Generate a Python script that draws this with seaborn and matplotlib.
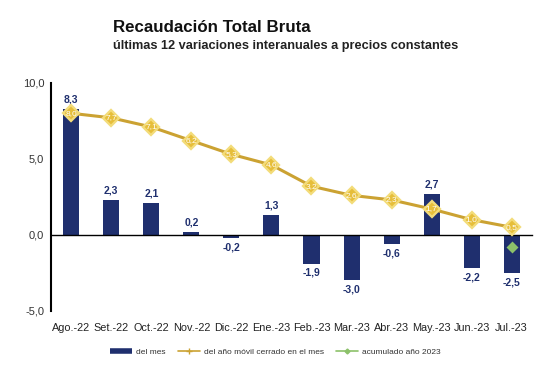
import numpy as np
import matplotlib
matplotlib.use("Agg")
import matplotlib.pyplot as plt
from matplotlib.lines import Line2D
import seaborn as sns
import pandas as pd

months = ["Ago.-22", "Set.-22", "Oct.-22", "Nov.-22", "Dic.-22", "Ene.-23",
          "Feb.-23", "Mar.-23", "Abr.-23", "May.-23", "Jun.-23", "Jul.-23"]
del_mes = [8.3, 2.3, 2.1, 0.2, -0.2, 1.3, -1.9, -3.0, -0.6, 2.7, -2.2, -2.5]
movil = [8.0, 7.7, 7.1, 6.2, 5.3, 4.6, 3.2, 2.6, 2.3, 1.7, 1.0, 0.5]
acum_month = ["Jul.-23"]
acum_2023 = [-0.8]

NAVY = "#1f2f6e"
GOLD = "#cba232"
GOLD_FACE = "#e6be3a"
GREEN = "#8cc16a"

def fmt(v):
    return f"{v:.1f}".replace(".", ",")

sns.set_style("white")
plt.rcParams["font.family"] = ["Liberation Sans", "DejaVu Sans"]

df = pd.DataFrame({"mes": months, "del_mes": del_mes, "movil": movil})
df_acum = pd.DataFrame({"mes": acum_month, "acum": acum_2023})

fig = plt.figure(figsize=(5.51, 3.91), dpi=100)
ax = fig.add_axes([0.093, 0.205, 0.872, 0.583])

sns.barplot(data=df, x="mes", y="del_mes", order=months, color=NAVY,
            width=0.4, saturation=1, edgecolor=NAVY, linewidth=0, ax=ax, zorder=2)
ax.bar_label(ax.containers[0], labels=[fmt(v) for v in del_mes], padding=3,
             fontsize=7.5, fontweight="bold", color=NAVY)

sns.pointplot(data=df, x="mes", y="movil", order=months, color=GOLD,
              markers="D", markersize=8, linewidth=2.2, ax=ax,
              markeredgecolor="#f3dc7a", markerfacecolor=GOLD_FACE, zorder=3)
for i, v in enumerate(movil):
    ax.annotate(fmt(v), (i, v), ha="center", va="center", fontsize=6,
                color="white", zorder=5)

sns.pointplot(data=df_acum, x="mes", y="acum", order=months, color=GREEN,
              markers="D", markersize=4.5, ax=ax, zorder=4)

ax.set_xlim(-0.5, len(months) - 0.5)
ax.set_ylim(-5, 10)
ax.set_yticks([-5, 0, 5, 10])
ax.set_yticklabels([fmt(v) for v in [-5, 0, 5, 10]], fontsize=8, color="#333333")
ax.tick_params(axis="y", direction="out", length=3, width=1, color="black", pad=2)
ax.set_xlabel("")
ax.set_ylabel("")

for s in ["top", "right"]:
    ax.spines[s].set_visible(False)
ax.spines["left"].set_color("black")
ax.spines["left"].set_linewidth(1.5)
ax.spines["bottom"].set_position(("data", 0))
ax.spines["bottom"].set_color("black")
ax.spines["bottom"].set_linewidth(1)
ax.set_xticks(np.arange(-0.5, len(months) + 0.5, 1))
ax.set_xticklabels([])
ax.tick_params(axis="x", direction="out", length=3, width=0.8, color="black")

sec = ax.secondary_xaxis(0)
sec.set_xticks(range(len(months)))
sec.set_xticklabels(months, fontsize=7.8, color="#222222")
sec.tick_params(length=0, pad=9)
sec.spines["bottom"].set_visible(False)

handles = [
    Line2D([0], [0], color=NAVY, lw=4, solid_capstyle="butt"),
    Line2D([0], [0], color=GOLD, lw=1.2, marker="+", markersize=4, markeredgecolor=GOLD),
    Line2D([0], [0], color=GREEN, lw=1.2, marker="D", markersize=2.5),
]
fig.legend(handles, ["del mes", "del año móvil cerrado en el mes", "acumulado año 2023"],
           loc="center", bbox_to_anchor=(0.5, 0.1), ncol=3, frameon=False,
           fontsize=6, handlelength=2.6, columnspacing=1.5, handletextpad=0.5,
           labelcolor="#333333")

fig.text(0.205, 0.93, "Recaudación Total Bruta", fontsize=12.2, fontweight="bold",
         va="center", ha="left", color="#111111")
fig.text(0.205, 0.882, "últimas 12 variaciones interanuales a precios constantes",
         fontsize=9.2, fontweight="bold", va="center", ha="left", color="#222222")

fig.savefig("out.png", dpi=100)
